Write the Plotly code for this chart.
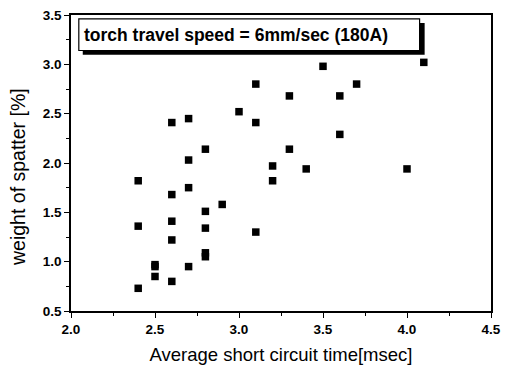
import plotly.graph_objects as go

x_time = [2.4, 2.4, 2.4,
          2.5, 2.5, 2.5,
          2.6, 2.6, 2.6, 2.6, 2.6,
          2.7, 2.7, 2.7, 2.7,
          2.8, 2.8, 2.8, 2.8, 2.8,
          2.9,
          3.0,
          3.1, 3.1, 3.1,
          3.2, 3.2,
          3.3, 3.3,
          3.4,
          3.5,
          3.6, 3.6,
          3.7,
          4.0,
          4.1]
y_spatter = [1.82, 1.36, 0.73,
             0.97, 0.95, 0.85,
             2.41, 1.68, 1.41, 1.22, 0.80,
             2.45, 2.03, 1.75, 0.95,
             2.14, 1.51, 1.34, 1.09, 1.05,
             1.58,
             2.52,
             2.80, 2.41, 1.30,
             1.97, 1.82,
             2.68, 2.14,
             1.94,
             2.98,
             2.68, 2.29,
             2.80,
             1.94,
             3.02]

label_text = "torch travel speed = 6mm/sec (180A)"
x_title = "Average short circuit time[msec]"
y_title = "weight of spatter [%]"

FONT = "Liberation Sans, Arial, sans-serif"

fig = go.Figure()
fig.add_trace(go.Scatter(
    x=x_time, y=y_spatter, mode="markers",
    marker=dict(symbol="square", size=7.5, color="black"),
    showlegend=False,
))

axis_common = dict(
    showgrid=False, zeroline=False, showline=True, linecolor="black",
    linewidth=1.5, mirror=True, ticks="outside", ticklen=5, tickwidth=1.2,
    tickcolor="black",
    tickfont=dict(family=FONT, size=13.5, color="black", weight="bold"),
    minor=dict(ticks="outside", ticklen=3, tickwidth=1, tickcolor="black"),
)

fig.update_xaxes(range=[2.0, 4.5], dtick=0.5, tick0=2.0, tickformat=".1f",
                 title=dict(text=x_title, font=dict(family=FONT, size=18.5, color="black"), standoff=12),
                 **axis_common)
fig.update_yaxes(range=[0.5, 3.5], dtick=0.5, tick0=0.5, tickformat=".1f",
                 **axis_common)
fig.update_xaxes(minor_dtick=0.25)
fig.update_yaxes(minor_dtick=0.25)

# y-axis title (placed slightly below centre, as in the original)
fig.add_annotation(xref="paper", yref="paper", x=-0.126, y=0.453,
                   xanchor="center", yanchor="middle", showarrow=False,
                   textangle=-90, text=y_title,
                   font=dict(family=FONT, size=19.5, color="black"))

# label box with drop shadow
fig.add_shape(type="rect", xref="paper", yref="paper",
              x0=0.028, x1=0.842, y0=0.866, y1=0.973,
              fillcolor="black", line=dict(width=0), layer="above")
fig.add_shape(type="rect", xref="paper", yref="paper",
              x0=0.0186, x1=0.830, y0=0.880, y1=0.987,
              fillcolor="white", line=dict(color="black", width=1.2), layer="above")
fig.add_annotation(xref="paper", yref="paper", x=0.026, y=0.933,
                   xanchor="left", yanchor="middle", showarrow=False,
                   text=label_text,
                   font=dict(family=FONT, size=17.5, color="black", weight="bold"))

fig.update_layout(
    width=509, height=370,
    margin=dict(l=71, r=8, t=15, b=56),
    paper_bgcolor="white", plot_bgcolor="white",
    font=dict(family=FONT, color="black"),
)

fig.write_html("out.html")
